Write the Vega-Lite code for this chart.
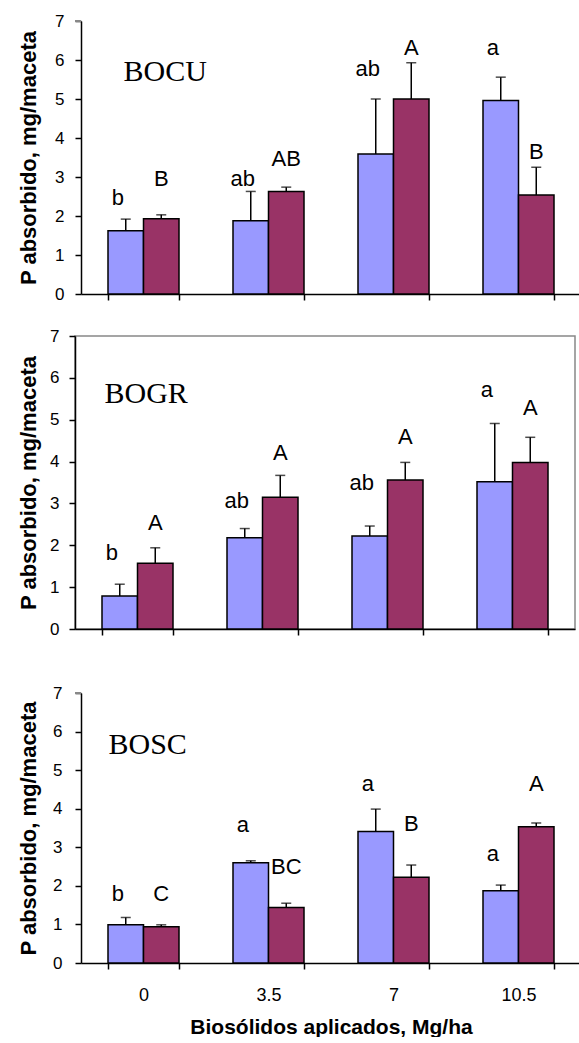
{
  "$schema": "https://vega.github.io/schema/vega-lite/v6.json",
  "padding": {"left": 16, "top": 12, "right": 0, "bottom": 0},
  "background": "white",
  "datasets": {
    "bocu": [
      {"dose": "0", "serie": "A", "value": 1.62, "hi": 1.92, "letter": "b", "ly": 2.27},
      {"dose": "0", "serie": "B", "value": 1.93, "hi": 2.03, "letter": "B", "ly": 2.78},
      {"dose": "3.5", "serie": "A", "value": 1.88, "hi": 2.63, "letter": "ab", "ly": 2.78},
      {"dose": "3.5", "serie": "B", "value": 2.63, "hi": 2.74, "letter": "AB", "ly": 3.29},
      {"dose": "7", "serie": "A", "value": 3.59, "hi": 5.0, "letter": "ab", "ly": 5.6},
      {"dose": "7", "serie": "B", "value": 5.0, "hi": 5.93, "letter": "A", "ly": 6.12},
      {"dose": "10.5", "serie": "A", "value": 4.96, "hi": 5.56, "letter": "a", "ly": 6.12},
      {"dose": "10.5", "serie": "B", "value": 2.54, "hi": 3.25, "letter": "B", "ly": 3.46}
    ],
    "bogr": [
      {"dose": "0", "serie": "A", "value": 0.79, "hi": 1.07, "letter": "b", "ly": 1.65},
      {"dose": "0", "serie": "B", "value": 1.57, "hi": 1.94, "letter": "A", "ly": 2.36},
      {"dose": "3.5", "serie": "A", "value": 2.18, "hi": 2.4, "letter": "ab", "ly": 2.88},
      {"dose": "3.5", "serie": "B", "value": 3.15, "hi": 3.67, "letter": "A", "ly": 4.03},
      {"dose": "7", "serie": "A", "value": 2.22, "hi": 2.46, "letter": "ab", "ly": 3.32},
      {"dose": "7", "serie": "B", "value": 3.56, "hi": 3.98, "letter": "A", "ly": 4.43},
      {"dose": "10.5", "serie": "A", "value": 3.52, "hi": 4.91, "letter": "a", "ly": 5.54},
      {"dose": "10.5", "serie": "B", "value": 3.98, "hi": 4.58, "letter": "A", "ly": 5.11}
    ],
    "bosc": [
      {"dose": "0", "serie": "A", "value": 0.99, "hi": 1.18, "letter": "b", "ly": 1.62},
      {"dose": "0", "serie": "B", "value": 0.94, "hi": 0.99, "letter": "C", "ly": 1.62},
      {"dose": "3.5", "serie": "A", "value": 2.6, "hi": 2.65, "letter": "a", "ly": 3.39},
      {"dose": "3.5", "serie": "B", "value": 1.44, "hi": 1.55, "letter": "BC", "ly": 2.31},
      {"dose": "7", "serie": "A", "value": 3.41, "hi": 3.99, "letter": "a", "ly": 4.45},
      {"dose": "7", "serie": "B", "value": 2.22, "hi": 2.54, "letter": "B", "ly": 3.41},
      {"dose": "10.5", "serie": "A", "value": 1.87, "hi": 2.02, "letter": "a", "ly": 2.65},
      {"dose": "10.5", "serie": "B", "value": 3.53, "hi": 3.63, "letter": "A", "ly": 4.45}
    ]
  },
  "vconcat": [
    {
      "vconcat": [
        {
          "width": 506,
          "height": 273,
          "view": {"stroke": null},
          "data": {"name": "bocu"},
          "encoding": {
            "x": {"field": "dose", "type": "nominal", "sort": ["0", "3.5", "7", "10.5"], "scale": {"paddingInner": 0.432, "paddingOuter": 0.216, "range": [6, 506]}, "axis": {"labels": false, "title": null}}
          },
          "layer": [
            {
              "mark": {"type": "rule", "color": "#888888", "strokeWidth": 1.5},
              "encoding": {"x": {"value": 6}, "x2": {"value": {"expr": "width"}}, "y": {"datum": 7, "type": "quantitative"}}
            },
            {
              "mark": {"type": "bar", "stroke": "black", "strokeWidth": 1.5},
              "encoding": {
                "xOffset": {"field": "serie", "type": "nominal", "scale": {"paddingInner": 0, "paddingOuter": 0}},
                "y": {"field": "value", "type": "quantitative", "title": "P absorbido, mg/maceta", "scale": {"domain": [0, 7], "nice": false}, "axis": {"titlePadding": 14, "labelPadding": 11, "offset": -6}},
                "color": {"field": "serie", "type": "nominal", "scale": {"domain": ["A", "B"], "range": ["#9999FF", "#993366"]}, "legend": null}
              }
            },
            {
              "mark": {"type": "rule", "color": "black", "strokeWidth": 1.5},
              "encoding": {
                "xOffset": {"field": "serie", "type": "nominal"},
                "y": {"field": "value", "type": "quantitative", "title": "P absorbido, mg/maceta"},
                "y2": {"field": "hi"}
              }
            },
            {
              "mark": {"type": "tick", "color": "black", "size": 10, "thickness": 1.5, "orient": "horizontal"},
              "encoding": {
                "xOffset": {"field": "serie", "type": "nominal"},
                "y": {"field": "hi", "type": "quantitative", "title": "P absorbido, mg/maceta"}
              }
            },
            {
              "transform": [{"filter": "datum.serie === 'A'"}],
              "mark": {"type": "text", "font": "Liberation Sans", "fontSize": 22, "baseline": "alphabetic", "align": "center", "dx": -8},
              "encoding": {
                "xOffset": {"field": "serie", "type": "nominal"},
                "y": {"field": "ly", "type": "quantitative", "title": "P absorbido, mg/maceta"},
                "text": {"field": "letter"}
              }
            },
            {
              "transform": [{"filter": "datum.serie === 'B'"}],
              "mark": {"type": "text", "font": "Liberation Sans", "fontSize": 22, "baseline": "alphabetic", "align": "center", "dx": 0},
              "encoding": {
                "xOffset": {"field": "serie", "type": "nominal"},
                "y": {"field": "ly", "type": "quantitative", "title": "P absorbido, mg/maceta"},
                "text": {"field": "letter"}
              }
            },
            {
              "data": {"values": [{"dose": "0", "ly": 5.47, "name": "BOCU"}]},
              "mark": {"type": "text", "font": "Liberation Serif", "fontSize": 30, "baseline": "alphabetic", "align": "left", "dx": -20},
              "encoding": {
                "y": {"field": "ly", "type": "quantitative", "title": "P absorbido, mg/maceta"},
                "text": {"field": "name"}
              }
            }
          ]
        },
        {
          "width": 500,
          "height": 293,
          "data": {"name": "bogr"},
          "encoding": {
            "x": {"field": "dose", "type": "nominal", "sort": ["0", "3.5", "7", "10.5"], "scale": {"paddingInner": 0.432, "paddingOuter": 0.216}, "axis": {"labels": false, "title": null}}
          },
          "layer": [
            {
              "mark": {"type": "bar", "stroke": "black", "strokeWidth": 1.5},
              "encoding": {
                "xOffset": {"field": "serie", "type": "nominal", "scale": {"paddingInner": 0, "paddingOuter": 0}},
                "y": {"field": "value", "type": "quantitative", "title": "P absorbido, mg/maceta", "scale": {"domain": [0, 7], "nice": false}, "axis": {"titlePadding": 9, "labelPadding": 10}},
                "color": {"field": "serie", "type": "nominal", "scale": {"domain": ["A", "B"], "range": ["#9999FF", "#993366"]}, "legend": null}
              }
            },
            {
              "mark": {"type": "rule", "color": "black", "strokeWidth": 1.5},
              "encoding": {
                "xOffset": {"field": "serie", "type": "nominal"},
                "y": {"field": "value", "type": "quantitative", "title": "P absorbido, mg/maceta"},
                "y2": {"field": "hi"}
              }
            },
            {
              "mark": {"type": "tick", "color": "black", "size": 10, "thickness": 1.5, "orient": "horizontal"},
              "encoding": {
                "xOffset": {"field": "serie", "type": "nominal"},
                "y": {"field": "hi", "type": "quantitative", "title": "P absorbido, mg/maceta"}
              }
            },
            {
              "transform": [{"filter": "datum.serie === 'A'"}],
              "mark": {"type": "text", "font": "Liberation Sans", "fontSize": 22, "baseline": "alphabetic", "align": "center", "dx": -8},
              "encoding": {
                "xOffset": {"field": "serie", "type": "nominal"},
                "y": {"field": "ly", "type": "quantitative", "title": "P absorbido, mg/maceta"},
                "text": {"field": "letter"}
              }
            },
            {
              "transform": [{"filter": "datum.serie === 'B'"}],
              "mark": {"type": "text", "font": "Liberation Sans", "fontSize": 22, "baseline": "alphabetic", "align": "center", "dx": 0},
              "encoding": {
                "xOffset": {"field": "serie", "type": "nominal"},
                "y": {"field": "ly", "type": "quantitative", "title": "P absorbido, mg/maceta"},
                "text": {"field": "letter"}
              }
            },
            {
              "data": {"values": [{"dose": "0", "ly": 5.39, "name": "BOGR"}]},
              "mark": {"type": "text", "font": "Liberation Serif", "fontSize": 30, "baseline": "alphabetic", "align": "left", "dx": -33},
              "encoding": {
                "y": {"field": "ly", "type": "quantitative", "title": "P absorbido, mg/maceta"},
                "text": {"field": "name"}
              }
            }
          ]
        }
      ],
      "spacing": 24
    },
    {
      "width": 506,
      "height": 270,
      "view": {"stroke": null},
      "data": {"name": "bosc"},
      "encoding": {
        "x": {"field": "dose", "type": "nominal", "sort": ["0", "3.5", "7", "10.5"], "scale": {"paddingInner": 0.432, "paddingOuter": 0.216, "range": [6, 506]}, "axis": {"title": "Biosólidos aplicados, Mg/ha"}}
      },
      "layer": [
        {
          "mark": {"type": "rule", "color": "#888888", "strokeWidth": 1.5},
          "encoding": {"x": {"value": 6}, "x2": {"value": {"expr": "width"}}, "y": {"datum": 7, "type": "quantitative"}}
        },
        {
          "mark": {"type": "bar", "stroke": "black", "strokeWidth": 1.5},
          "encoding": {
            "xOffset": {"field": "serie", "type": "nominal", "scale": {"paddingInner": 0, "paddingOuter": 0}},
            "y": {"field": "value", "type": "quantitative", "title": "P absorbido, mg/maceta", "scale": {"domain": [0, 7], "nice": false}, "axis": {"titlePadding": 12, "labelPadding": 13, "offset": -6}},
            "color": {"field": "serie", "type": "nominal", "scale": {"domain": ["A", "B"], "range": ["#9999FF", "#993366"]}, "legend": null}
          }
        },
        {
          "mark": {"type": "rule", "color": "black", "strokeWidth": 1.5},
          "encoding": {
            "xOffset": {"field": "serie", "type": "nominal"},
            "y": {"field": "value", "type": "quantitative", "title": "P absorbido, mg/maceta"},
            "y2": {"field": "hi"}
          }
        },
        {
          "mark": {"type": "tick", "color": "black", "size": 10, "thickness": 1.5, "orient": "horizontal"},
          "encoding": {
            "xOffset": {"field": "serie", "type": "nominal"},
            "y": {"field": "hi", "type": "quantitative", "title": "P absorbido, mg/maceta"}
          }
        },
        {
          "transform": [{"filter": "datum.serie === 'A'"}],
          "mark": {"type": "text", "font": "Liberation Sans", "fontSize": 22, "baseline": "alphabetic", "align": "center", "dx": -8},
          "encoding": {
            "xOffset": {"field": "serie", "type": "nominal"},
            "y": {"field": "ly", "type": "quantitative", "title": "P absorbido, mg/maceta"},
            "text": {"field": "letter"}
          }
        },
        {
          "transform": [{"filter": "datum.serie === 'B'"}],
          "mark": {"type": "text", "font": "Liberation Sans", "fontSize": 22, "baseline": "alphabetic", "align": "center", "dx": 0},
          "encoding": {
            "xOffset": {"field": "serie", "type": "nominal"},
            "y": {"field": "ly", "type": "quantitative", "title": "P absorbido, mg/maceta"},
            "text": {"field": "letter"}
          }
        },
        {
          "data": {"values": [{"dose": "0", "ly": 5.43, "name": "BOSC"}]},
          "mark": {"type": "text", "font": "Liberation Serif", "fontSize": 30, "baseline": "alphabetic", "align": "left", "dx": -35},
          "encoding": {
            "y": {"field": "ly", "type": "quantitative", "title": "P absorbido, mg/maceta"},
            "text": {"field": "name"}
          }
        }
      ]
    }
  ],
  "spacing": 46,
  "config": {
    "view": {"stroke": "#888888", "strokeWidth": 1.5},
    "font": "Liberation Sans",
    "axis": {
      "labelFont": "Liberation Sans",
      "labelColor": "black",
      "labelFontSize": 17,
      "domainColor": "black",
      "domainWidth": 1.5,
      "tickColor": "black",
      "tickWidth": 1.5,
      "tickSize": 6,
      "grid": false,
      "titleFont": "Liberation Sans",
      "titleFontSize": 22,
      "titleFontWeight": "bold",
      "titleColor": "black",
      "zindex": 1
    },
    "axisX": {"tickBand": "extent", "labelAngle": 0, "labelFontSize": 18, "labelPadding": 17, "titleFontSize": 21, "titlePadding": 12},
    "axisY": {"values": [0, 1, 2, 3, 4, 5, 6, 7], "labelPadding": 11}
  }
}
